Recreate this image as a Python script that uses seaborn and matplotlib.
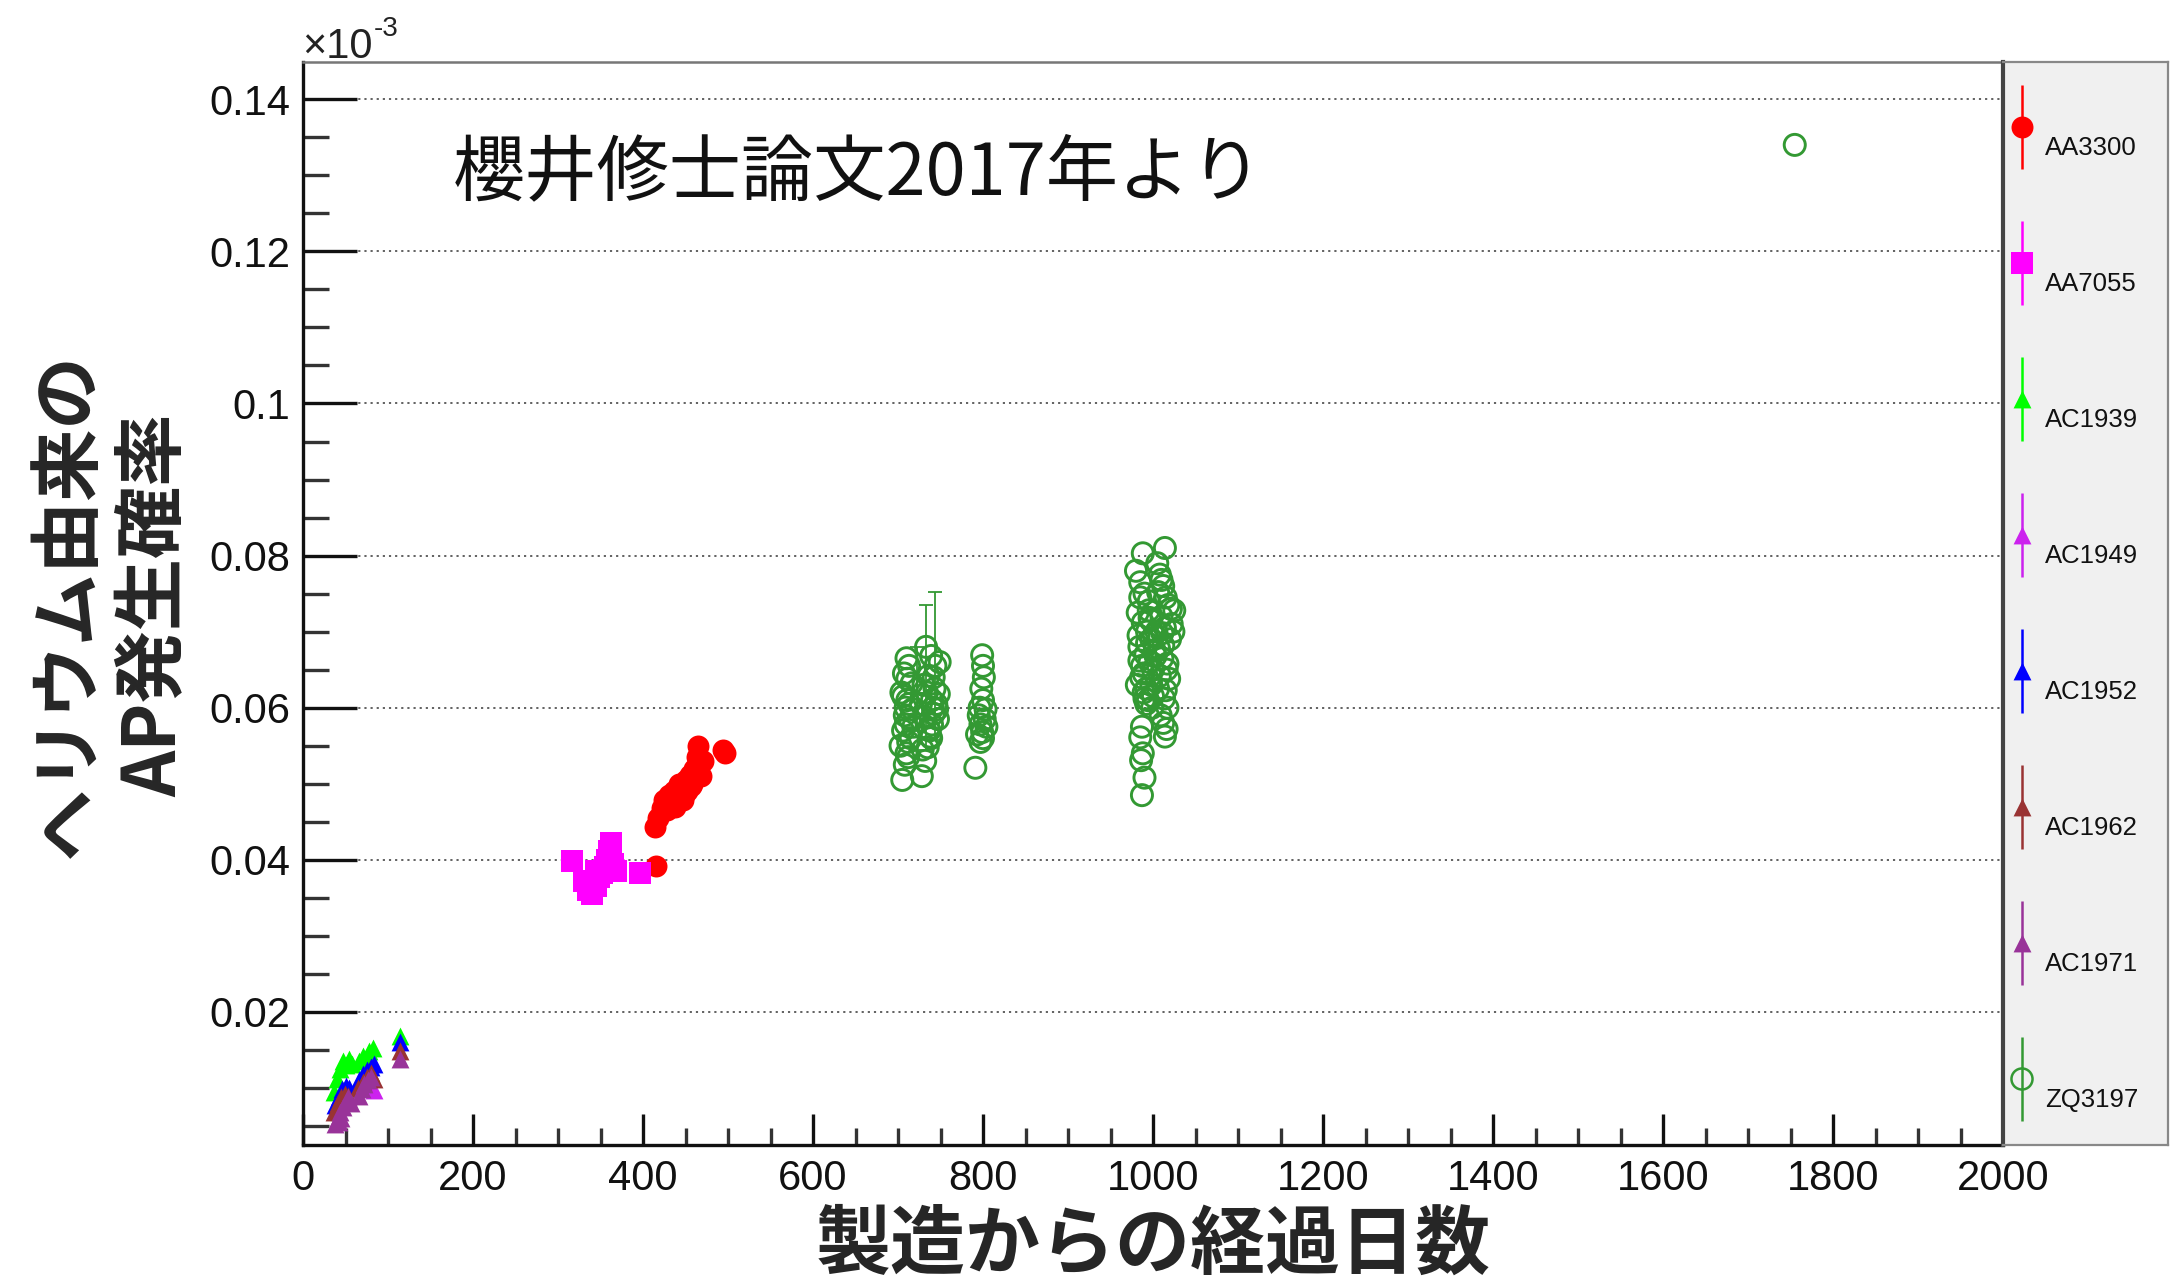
import numpy as np
import pandas as pd
import seaborn as sns
import matplotlib.pyplot as plt
from matplotlib.ticker import MultipleLocator, FuncFormatter

# ---- データ (y は x10^-3 単位) ----
aa3300_x = [415, 414, 418, 422, 425, 428, 430, 433, 436, 440, 442, 445, 448, 450,
            452, 455, 458, 460, 463, 465, 468, 470, 494, 496, 438, 447, 456]
aa3300_y = [0.0392, 0.0443, 0.0455, 0.0468, 0.0478, 0.0465, 0.0485, 0.0472, 0.0490,
            0.0480, 0.0500, 0.0495, 0.0485, 0.0505, 0.0490, 0.0512, 0.0500, 0.0520,
            0.0535, 0.0550, 0.0510, 0.0530, 0.0544, 0.0540, 0.0470, 0.0478, 0.0497]

aa7055_x = [316, 330, 335, 340, 345, 348, 352, 355, 358, 360, 362, 365, 368, 345, 338, 397]
aa7055_y = [0.0398, 0.0372, 0.0360, 0.0355, 0.0365, 0.0378, 0.0383, 0.0390, 0.0400,
            0.0412, 0.0422, 0.0395, 0.0385, 0.0385, 0.0368, 0.0382]

ac1939_x = [36, 40, 44, 47, 50, 54, 58, 66, 70, 74, 78, 82, 114]
ac1939_y = [0.0095, 0.0112, 0.0125, 0.0136, 0.0130, 0.0138, 0.0132, 0.0135, 0.0142,
            0.0140, 0.0148, 0.0152, 0.0168]

ac1949_x = [46, 72, 84]
ac1949_y = [0.0082, 0.0100, 0.0097]

ac1952_x = [38, 42, 46, 50, 54, 66, 70, 75, 80, 84, 114]
ac1952_y = [0.0078, 0.0088, 0.0098, 0.0103, 0.0100, 0.0110, 0.0118, 0.0124, 0.0128,
            0.0132, 0.0160]

ac1962_x = [37, 41, 45, 49, 53, 65, 70, 75, 80, 84, 114]
ac1962_y = [0.0068, 0.0080, 0.0088, 0.0092, 0.0090, 0.0100, 0.0108, 0.0115, 0.0120,
            0.0112, 0.0148]

ac1971_x = [38, 41, 44, 47, 50, 53, 56, 42, 45, 66, 69, 72, 76, 80, 114]
ac1971_y = [0.0052, 0.0060, 0.0068, 0.0075, 0.0082, 0.0088, 0.0080, 0.0055, 0.0060,
            0.0090, 0.0098, 0.0105, 0.0110, 0.0115, 0.0138]

zq3197_x = [705, 708, 710, 712, 706, 714, 709, 711, 704, 716, 707, 713, 710, 708, 718, 715,
            728, 732, 735, 738, 740, 742, 745, 748, 730, 736, 744, 739, 733, 741, 747, 737,
            729, 743,
            703, 709, 713, 706, 711, 717, 731, 736, 740, 746, 734, 739, 727, 742, 749, 712,
            799, 800, 801, 798, 800, 796, 803, 795, 802, 797, 804, 799, 793, 800, 797, 791,
            980, 985, 990, 995, 982, 988, 993, 998, 984, 991, 996, 1000, 986, 981, 989, 994,
            999, 983, 987, 992, 997, 1002,
            1005, 1008, 1012, 1015, 1018, 1010, 1014, 1020, 1007, 1011, 1016, 1019, 1006,
            1013, 1017, 1009, 1004, 1021,
            987, 985, 988, 986, 990, 1014, 1012, 1016, 988, 1014, 987, 1025, 1024,
            984, 989, 993, 998, 1003, 1008, 1012, 1017, 992, 996, 1001, 1006, 1011, 985,
            990, 995, 1000, 1010, 1015, 1022,
            1755]
zq3197_y = [0.0505, 0.0525, 0.0540, 0.0555, 0.0570, 0.0585, 0.0600, 0.0610, 0.0620,
            0.0632, 0.0645, 0.0655, 0.0665, 0.0590, 0.0575, 0.0560,
            0.0510, 0.0530, 0.0548, 0.0562, 0.0578, 0.0592, 0.0605, 0.0618, 0.0630,
            0.0642, 0.0655, 0.0668, 0.0680, 0.0600, 0.0585, 0.0570, 0.0545, 0.0625,
            0.0550, 0.0578, 0.0605, 0.0615, 0.0638, 0.0598, 0.0588, 0.0572, 0.0610,
            0.0598, 0.0620, 0.0560, 0.0605, 0.0640, 0.0660, 0.0535,
            0.0669, 0.0655, 0.0640, 0.0625, 0.0610, 0.0600, 0.0598, 0.0590, 0.0585,
            0.0578, 0.0575, 0.0568, 0.0565, 0.0560, 0.0555, 0.0521,
            0.0780, 0.0765, 0.0750, 0.0740, 0.0725, 0.0712, 0.0700, 0.0690, 0.0680,
            0.0670, 0.0660, 0.0650, 0.0640, 0.0630, 0.0620, 0.0610, 0.0600, 0.0695,
            0.0655, 0.0625, 0.0715, 0.0675,
            0.0790, 0.0775, 0.0760, 0.0745, 0.0735, 0.0720, 0.0705, 0.0690, 0.0678,
            0.0665, 0.0650, 0.0638, 0.0625, 0.0612, 0.0600, 0.0590, 0.0700, 0.0730,
            0.0575, 0.0561, 0.0540, 0.0531, 0.0508, 0.0562, 0.0580, 0.0572, 0.0803,
            0.0810, 0.0485, 0.0728, 0.0700,
            0.0662, 0.0645, 0.0685, 0.0630, 0.0668, 0.0642, 0.0682, 0.0658, 0.0605,
            0.0718, 0.0695, 0.0752, 0.0698, 0.0745, 0.0612, 0.0728, 0.0615, 0.0768,
            0.0623, 0.0710,
            0.1340]

# 見えている誤差棒
zq_err_x = [733, 743, 722]
zq_err_y = [0.0640, 0.0655, 0.0625]
zq_err = [0.0095, 0.0097, 0.0055]

names = ['AA3300', 'AA7055', 'AC1939', 'AC1949', 'AC1952', 'AC1962', 'AC1971', 'ZQ3197']
colors = ['#ff0000', '#ff00ff', '#00ff00', '#cc22ee', '#0000ff', '#993333', '#993399', '#339933']
markers = ['o', 's', '^', '^', '^', '^', '^', 'o']
sizes = [250, 235, 165, 165, 165, 165, 165, 230]
series_x = [aa3300_x, aa7055_x, ac1939_x, ac1949_x, ac1952_x, ac1962_x, ac1971_x, zq3197_x]
series_y = [aa3300_y, aa7055_y, ac1939_y, ac1949_y, ac1952_y, ac1962_y, ac1971_y, zq3197_y]

dados = pd.concat([pd.DataFrame({'pmt': n, 'dias': x, 'ap': y})
                   for n, x, y in zip(names, series_x, series_y)], ignore_index=True)

sns.set_style('white')
plt.rcParams['font.family'] = ['Liberation Sans', 'Noto Sans CJK JP', 'DejaVu Sans']
cjk = ['Noto Sans CJK JP', 'DejaVu Sans']

W, H = 2170, 1283
fig = plt.figure(figsize=(W / 100, H / 100), dpi=100)
ax = fig.add_axes([303 / W, 1 - 1145 / H, 1700 / W, 1083 / H])
lax = fig.add_axes([2003 / W, 1 - 1145 / H, 165 / W, 1083 / H])

# pontos
for n, c, m, s in zip(names, colors, markers, sizes):
    sub = dados[dados['pmt'] == n]
    if n == 'ZQ3197':
        ax.errorbar(zq_err_x, zq_err_y, yerr=zq_err, fmt='none', ecolor=c,
                    elinewidth=1.3, capsize=5, capthick=1.3, zorder=2)
        sns.scatterplot(data=sub, x='dias', y='ap', marker=m, s=s, ax=ax,
                        facecolor='none', edgecolor=c, linewidth=2.1, zorder=3)
    else:
        sns.scatterplot(data=sub, x='dias', y='ap', marker=m, s=s, ax=ax,
                        color=c, linewidth=0, zorder=3)

ax.set_xlim(0, 2000)
ax.set_ylim(0.0025, 0.1449)
ax.set_xlabel('')
ax.set_ylabel('')

ax.xaxis.set_major_locator(MultipleLocator(200))
ax.xaxis.set_minor_locator(MultipleLocator(50))
ax.yaxis.set_major_locator(MultipleLocator(0.02))
ax.yaxis.set_minor_locator(MultipleLocator(0.005))
ax.yaxis.set_major_formatter(FuncFormatter(lambda v, p: f'{v:g}'))

ax.tick_params(axis='x', which='both', bottom=True, top=False)
ax.tick_params(axis='y', which='both', left=True, right=False)
ax.tick_params(axis='x', which='major', direction='in', length=22, width=2.4,
               labelsize=30, pad=10, colors='#111111')
ax.tick_params(axis='x', which='minor', direction='in', length=12, width=2.4, colors='#333333')
ax.tick_params(axis='y', which='major', direction='in', length=39, width=2.4,
               labelsize=30, pad=9, colors='#111111')
ax.tick_params(axis='y', which='minor', direction='in', length=19, width=2.4, colors='#333333')

ax.set_axisbelow(True)
ax.yaxis.grid(True, which='major', linestyle=(0, (1.2, 2.2)), color='#555555', lw=1.3)
ax.xaxis.grid(False)

for lado in ['left', 'bottom']:
    ax.spines[lado].set_color('#111111')
    ax.spines[lado].set_linewidth(2.4)
ax.spines['top'].set_color('#777777')
ax.spines['top'].set_linewidth(1.8)
ax.spines['right'].set_visible(False)

# texto
ax.text(0.088, 0.897, '櫻井修士論文2017年より', transform=ax.transAxes, fontsize=52,
        va='center', ha='left', family=cjk, color='#111111')

fig.text(302 / W, 1 - 58 / H, '×10', fontsize=30, va='baseline', ha='left', color='#222222')
fig.text(374 / W, 1 - 36 / H, '-3', fontsize=20, va='baseline', ha='left', color='#222222')

fig.text(112 / W, 1 - 605 / H, 'ヘリウム由来の\nAP発生確率', rotation=90, fontsize=52,
         fontweight='bold', family=cjk, ha='center', va='center', multialignment='center',
         linespacing=1.2)
fig.text(1153 / W, 1 - 1246 / H, '製造からの経過日数', fontsize=54, fontweight='bold',
         family=cjk, ha='center', va='center')

# legenda
lax.set_facecolor('#f0f0f0')
lax.set_xlim(0, 165)
lax.set_ylim(1083, 0)
lax.set_xticks([])
lax.set_yticks([])
lax.spines['left'].set_color('#444444')
lax.spines['left'].set_linewidth(3)
for lado in ['top', 'bottom', 'right']:
    lax.spines[lado].set_color('#888888')
    lax.spines[lado].set_linewidth(1.6)

for i, (n, c, m, s) in enumerate(zip(names, colors, markers, sizes)):
    yc = 65 + i * 136
    lax.vlines(19, yc - 42, yc + 42, color=c, lw=1.8)
    if n == 'ZQ3197':
        lax.scatter([19], [yc], marker=m, s=s, facecolor='none', edgecolor=c, linewidths=1.8)
    else:
        lax.scatter([19], [yc], marker=m, s=s, color=c, linewidths=0)
    lax.text(42, yc + 21, n, fontsize=18.5, va='center', ha='left', color='#111111')

fig.savefig('out.png', dpi=100, facecolor='white')
